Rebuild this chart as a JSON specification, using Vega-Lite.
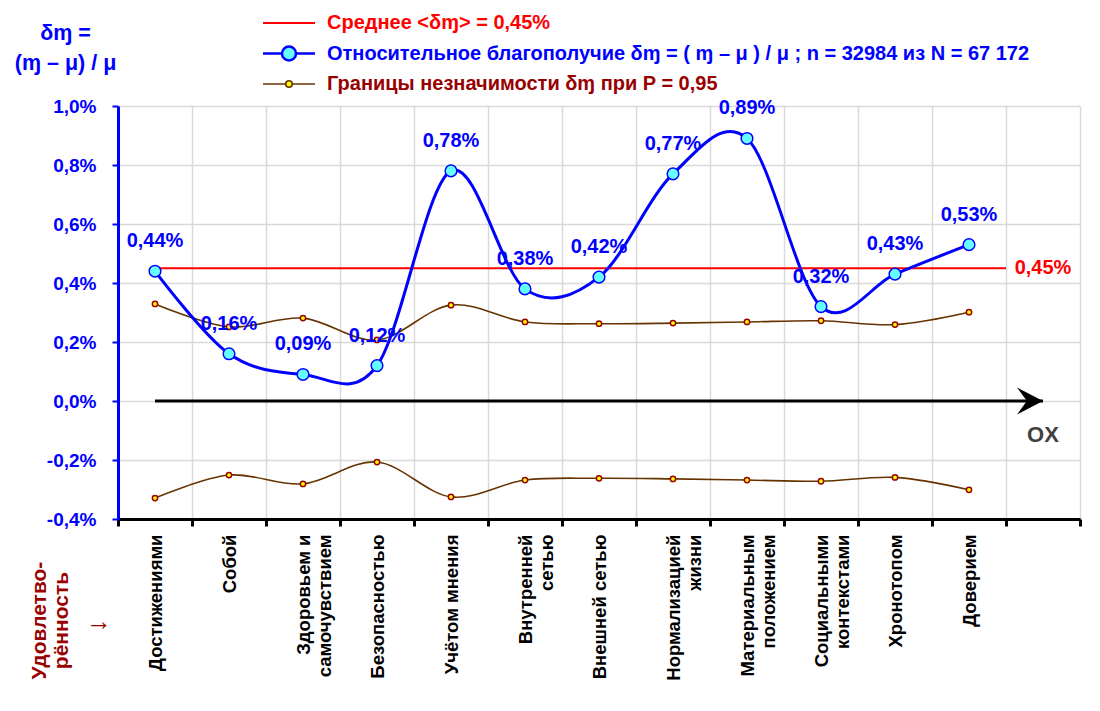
{
  "$schema": "https://vega.github.io/schema/vega-lite/v6.json",
  "width": 962,
  "height": 413,
  "autosize": {"type": "none"},
  "padding": {"left": 118, "top": 106, "right": 20, "bottom": 192},
  "background": "white",
  "title": {"text": "→", "orient": "bottom", "anchor": "start", "frame": "group", "font": "Liberation Serif", "fontSize": 26, "fontWeight": "normal", "color": "#990000", "dx": -32, "dy": -71, "align": "left", "offset": 0},
  "config": {
    "view": {"stroke": null},
    "locale": {"number": {"decimal": ",", "thousands": " ", "grouping": [3], "currency": ["", ""], "minus": "-", "percent": "%"}}
  },
  "datasets": {
    "main": [
      {"cat": "Достижениями", "m": 0.0044, "up": 0.00329, "lo": -0.00329},
      {"cat": "Собой", "m": 0.0016, "up": 0.00251, "lo": -0.00251},
      {"cat": "Здоровьем и|самочувствием", "m": 0.0009, "up": 0.00281, "lo": -0.00281},
      {"cat": "Безопасностью", "m": 0.0012, "up": 0.00207, "lo": -0.00207},
      {"cat": "Учётом мнения", "m": 0.0078, "up": 0.00325, "lo": -0.00325},
      {"cat": "Внутренней|сетью", "m": 0.0038, "up": 0.00268, "lo": -0.00268},
      {"cat": "Внешней сетью", "m": 0.0042, "up": 0.00262, "lo": -0.00262},
      {"cat": "Нормализацией|жизни", "m": 0.0077, "up": 0.00264, "lo": -0.00264},
      {"cat": "Материальным|положением", "m": 0.0089, "up": 0.00268, "lo": -0.00268},
      {"cat": "Социальными|контекстами", "m": 0.0032, "up": 0.00272, "lo": -0.00272},
      {"cat": "Хронотопом", "m": 0.0043, "up": 0.00259, "lo": -0.00259},
      {"cat": "Доверием", "m": 0.0053, "up": 0.00301, "lo": -0.00301}
    ],
    "mean": [{"cat": " ", "cat2": "Достижениями", "value": 0.0045}],
    "ox": [{"cat": " ", "cat2": "Достижениями", "value": 0, "label": "OX"}]
  },
  "data": {"name": "main"},
  "encoding": {
    "x": {
      "field": "cat",
      "type": "nominal",
      "scale": {"domain": ["Достижениями", "Собой", "Здоровьем и|самочувствием", "Безопасностью", "Учётом мнения", "Внутренней|сетью", "Внешней сетью", "Нормализацией|жизни", "Материальным|положением", "Социальными|контекстами", "Хронотопом", "Доверием", " "], "paddingInner": 0, "paddingOuter": 0},
      "axis": {
        "tickBand": "extent", "grid": true, "gridColor": "#D9D9D9", "gridWidth": 1.5,
        "domainColor": "#000000", "domainWidth": 3, "tickColor": "#000000", "tickWidth": 3, "tickSize": 7,
        "labelAngle": -90, "labelAlign": "right", "labelBaseline": "middle", "labelPadding": 8,
        "labelFont": "Liberation Sans", "labelFontWeight": "bold", "labelFontSize": 18.5, "labelColor": "#000000",
        "labelLimit": 0, "labelLineHeight": 21, "labelExpr": "split(datum.label, '|')",
        "title": ["Удовлетво-", "рённость"], "titleAngle": -90, "titleX": -90, "titleY": 101,
        "titleAlign": "center", "titleBaseline": "top", "titleColor": "#990000",
        "titleFont": "Liberation Sans", "titleFontSize": 21, "titleFontWeight": "bold", "titleLineHeight": 22
      }
    }
  },
  "layer": [
    {
      "mark": {"type": "line", "interpolate": "cardinal", "strokeWidth": 1.6},
      "encoding": {
        "order": {"value": null},
        "y": {
          "field": "up", "type": "quantitative",
          "scale": {"domain": [-0.004, 0.01], "nice": false, "zero": false},
          "axis": {
            "values": [-0.004, -0.002, 0, 0.002, 0.004, 0.006, 0.008, 0.01], "format": ".1%",
            "grid": true, "gridColor": "#D9D9D9", "gridWidth": 1.5,
            "domainColor": "#0000FF", "domainWidth": 3, "tickColor": "#0000FF", "tickWidth": 2, "tickSize": 6,
            "labelColor": "#0000FF", "labelFont": "Liberation Sans", "labelFontWeight": "bold", "labelFontSize": 19, "labelPadding": 16,
            "title": ["δɱ =", "(ɱ – μ) / μ"], "titleAngle": 0, "titleX": -53, "titleY": -73,
            "titleAlign": "center", "titleBaseline": "middle", "titleColor": "#0000FF",
            "titleFont": "Liberation Sans", "titleFontSize": 21.5, "titleFontWeight": "bold", "titleLineHeight": 30
          }
        },
        "color": {
          "datum": "Границы незначимости δɱ при P = 0,95", "type": "nominal",
          "scale": {
            "domain": ["Среднее <δɱ> = 0,45%", "Относительное благополучие δɱ = ( ɱ – μ ) / μ ; n = 32984 из N = 67 172", "Границы незначимости δɱ при P = 0,95"],
            "range": ["#FF0000", "#0000FF", "#663300"]
          },
          "legend": {
            "orient": "none", "legendX": 148, "legendY": -93, "direction": "vertical", "title": null, "padding": 0,
            "labelFont": "Liberation Sans", "labelFontSize": 20, "labelFontWeight": "bold", "labelLimit": 0,
            "labelOffset": 41, "rowPadding": 7.5, "symbolSize": 676, "symbolStrokeWidth": 2.5, "symbolType": "M-1,0 L3,0",
            "encode": {
              "symbols": {"update": {
                "shape": {"signal": "datum.index == 1 ? 'M-1,0 L0.46,0 M1.54,0 A0.54,0.54 0 1 1 0.46,0 A0.54,0.54 0 1 1 1.54,0 M1.54,0 L3,0' : datum.index == 2 ? 'M-1,0 L0.75,0 M1.25,0 A0.25,0.25 0 1 1 0.75,0 A0.25,0.25 0 1 1 1.25,0 M1.25,0 L3,0' : 'M-1,0 L3,0'"},
                "fill": {"signal": "datum.index == 1 ? '#66FFFF' : datum.index == 2 ? '#FFFF00' : 'transparent'"},
                "stroke": {"signal": "datum.index == 0 ? '#FF0000' : datum.index == 1 ? '#0000FF' : '#663300'"},
                "strokeWidth": {"signal": "datum.index == 1 ? 2.5 : datum.index == 2 ? 1.6 : 2"},
                "opacity": {"value": 1},
                "fillOpacity": {"value": 1}
              }},
              "labels": {"update": {
                "fill": {"signal": "datum.index == 0 ? '#FF0000' : datum.index == 1 ? '#0000FF' : '#990000'"}
              }}
            }
          }
        }
      }
    },
    {
      "mark": {"type": "line", "interpolate": "cardinal", "strokeWidth": 1.6},
      "encoding": {
        "order": {"value": null},
        "y": {"field": "lo", "type": "quantitative"},
        "color": {"datum": "Границы незначимости δɱ при P = 0,95", "type": "nominal"}
      }
    },
    {
      "mark": {"type": "point", "filled": true, "fill": "#FFFF00", "stroke": "#990000", "strokeWidth": 1.5, "size": 28, "opacity": 1},
      "encoding": {"y": {"field": "up", "type": "quantitative"}}
    },
    {
      "mark": {"type": "point", "filled": true, "fill": "#FFFF00", "stroke": "#990000", "strokeWidth": 1.5, "size": 28, "opacity": 1},
      "encoding": {"y": {"field": "lo", "type": "quantitative"}}
    },
    {
      "data": {"name": "mean"},
      "mark": {"type": "rule", "strokeWidth": 2},
      "encoding": {
        "x": {"field": "cat", "type": "nominal", "bandPosition": 0},
        "x2": {"field": "cat2"},
        "y": {"field": "value", "type": "quantitative"},
        "color": {"datum": "Среднее <δɱ> = 0,45%", "type": "nominal"}
      }
    },
    {
      "data": {"name": "mean"},
      "mark": {"type": "text", "color": "#FF0000", "font": "Liberation Sans", "fontWeight": "bold", "fontSize": 20, "baseline": "middle", "align": "center"},
      "encoding": {
        "y": {"field": "value", "type": "quantitative"},
        "text": {"field": "value", "type": "quantitative", "format": ".2%"}
      }
    },
    {
      "data": {"name": "ox"},
      "mark": {"type": "rule", "strokeWidth": 3, "color": "#000000"},
      "encoding": {
        "x": {"field": "cat2", "type": "nominal"},
        "x2": {"field": "cat"},
        "y": {"field": "value", "type": "quantitative"}
      }
    },
    {
      "data": {"name": "ox"},
      "mark": {"type": "point", "filled": true, "color": "#000000", "opacity": 1, "strokeWidth": 0, "size": 2704, "shape": "M0,0 L-1,-0.52 L-0.62,0 L-1,0.52 Z"},
      "encoding": {"y": {"field": "value", "type": "quantitative"}}
    },
    {
      "data": {"name": "ox"},
      "mark": {"type": "text", "color": "#404040", "font": "Liberation Sans", "fontWeight": "bold", "fontSize": 22, "baseline": "middle", "align": "center", "dy": 34},
      "encoding": {
        "y": {"field": "value", "type": "quantitative"},
        "text": {"field": "label"}
      }
    },
    {
      "mark": {"type": "line", "interpolate": "cardinal", "strokeWidth": 3},
      "encoding": {
        "order": {"value": null},
        "y": {"field": "m", "type": "quantitative"},
        "color": {"datum": "Относительное благополучие δɱ = ( ɱ – μ ) / μ ; n = 32984 из N = 67 172", "type": "nominal"}
      }
    },
    {
      "mark": {"type": "point", "filled": true, "fill": "#66FFFF", "stroke": "#0000FF", "strokeWidth": 1.5, "size": 135, "opacity": 1},
      "encoding": {"y": {"field": "m", "type": "quantitative"}}
    },
    {
      "mark": {"type": "text", "color": "#0000FF", "font": "Liberation Sans", "fontWeight": "bold", "fontSize": 20, "baseline": "middle", "align": "center", "dy": -30},
      "encoding": {
        "y": {"field": "m", "type": "quantitative"},
        "text": {"field": "m", "type": "quantitative", "format": ".2%"}
      }
    }
  ]
}
